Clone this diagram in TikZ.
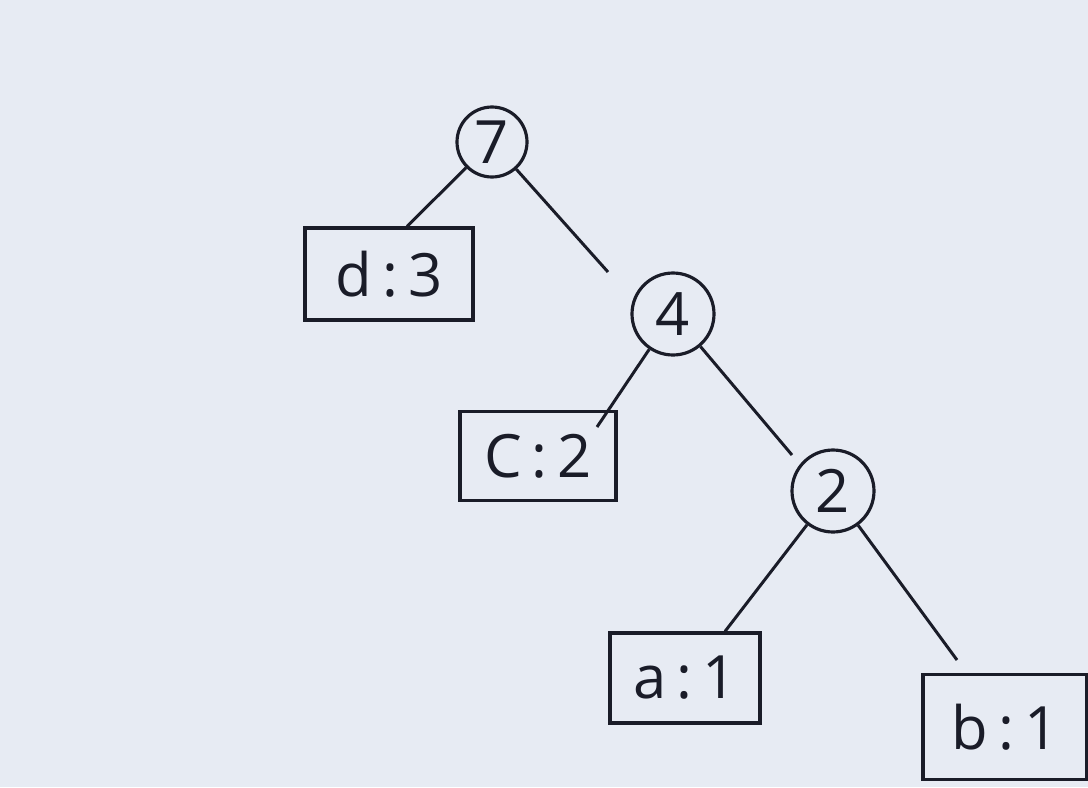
\documentclass[tikz,border=0pt]{standalone}
\usepackage{fontspec}
\setmainfont{Open Sans}
\usepackage{xcolor}
\usepackage{tikz}
\usetikzlibrary{positioning,arrows.meta}

\definecolor{paper}{RGB}{231,235,243}
\definecolor{pen}{RGB}{26,28,40}

\begin{document}
\begin{tikzpicture}[
  sumnode/.style={draw=pen, circle, line width=0.9pt, minimum size=8.2mm,
    inner sep=0pt, text=pen, font=\fontsize{17}{17}\selectfont},
  leaf/.style={draw=pen, rectangle, line width=0.9pt, minimum width=15.6mm,
    minimum height=8.9mm, text=pen, font=\fontsize{17}{17}\selectfont},
  edge/.style={draw=pen, line width=0.85pt}
]
\fill[paper] (0,0) rectangle (10.88,7.87);
\useasboundingbox (0,0) rectangle (10.88,7.87);

% internal nodes carry the summed counts
\node[sumnode, minimum size=7mm] (n7) at (4.92,6.45) {7};
\node[sumnode] (n4) at (6.73,4.73) {4};
\node[sumnode] (n2) at (8.33,2.96) {2};

% leaves: symbol and count
\node[leaf, minimum width=16.8mm, minimum height=9.2mm] (d3) at (3.89,5.13) {d\,:\,3};
\node[leaf] (c2) at (5.38,3.31) {C\,:\,2};
\node[leaf, minimum width=15mm, minimum height=9mm] (a1) at (6.85,1.09) {a\,:\,1};
\node[leaf, minimum width=16.4mm, minimum height=10.5mm] (b1) at (10.05,0.60) {b\,:\,1};

% the hand-drawn edges stop short or run into the boxes
\draw[edge] (n7) -- ([xshift=1.8mm]d3.north);
\draw[edge] (n7) -- ([shift={(-6.5mm,4.2mm)}]n4.center);
\draw[edge] (n4) -- ([shift={(5.9mm,2.9mm)}]c2.center);
\draw[edge] (n4) -- ([shift={(-4.1mm,3.6mm)}]n2.center);
\draw[edge] (n2) -- ([xshift=4mm]a1.north);
\draw[edge] (n2) -- ([shift={(-4.8mm,6.7mm)}]b1.center);
\end{tikzpicture}
\end{document}
